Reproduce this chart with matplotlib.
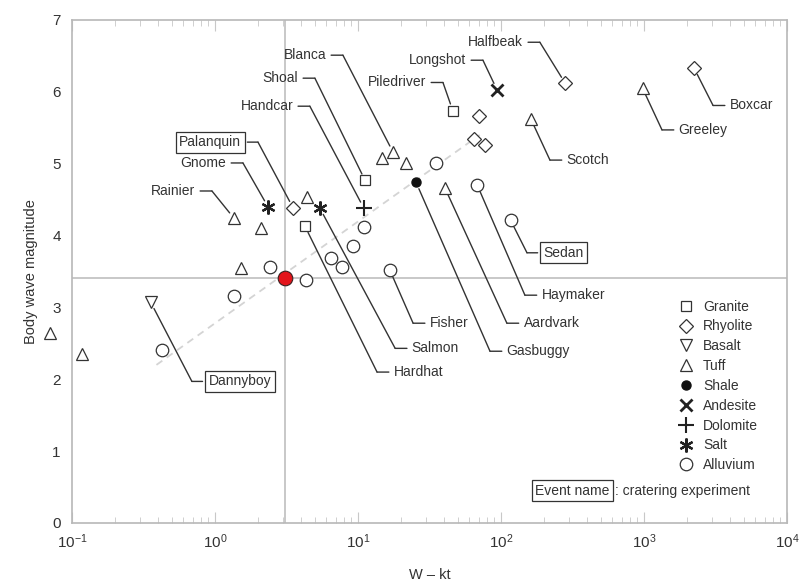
import numpy as np
import matplotlib
matplotlib.use('Agg')
import matplotlib.pyplot as plt

plt.rcParams['font.family'] = ['Liberation Sans', 'DejaVu Sans']
plt.rcParams['mathtext.default'] = 'regular'

# yield W (kt) and body wave magnitude, per rock type
granite_w = [46, 11.2, 4.26]
granite_mb = [5.74, 4.77, 4.13]
rhyolite_w = [3.51, 281, 2240, 70, 64.7, 77]
rhyolite_mb = [4.39, 6.12, 6.33, 5.67, 5.34, 5.26]
basalt_w = [0.356]
basalt_mb = [3.07]
tuff_w = [0.070, 0.117, 1.52, 1.36, 2.10, 4.39, 14.7, 17.6, 21.7, 40.6, 162, 977]
tuff_mb = [2.64, 2.35, 3.55, 4.24, 4.10, 4.53, 5.08, 5.16, 5.01, 4.66, 5.62, 6.05]
shale_w = [25.5]
shale_mb = [4.74]
andesite_w = [93.7]
andesite_mb = [6.03]
dolomite_w = [11.0]
dolomite_mb = [4.38]
salt_w = [2.35, 5.42]
salt_mb = [4.40, 4.38]
alluvium_w = [0.425, 1.36, 2.43, 4.33, 6.47, 7.72, 9.2, 11.0, 16.7, 35, 68, 117]
alluvium_mb = [2.41, 3.16, 3.56, 3.38, 3.69, 3.56, 3.85, 4.12, 3.52, 5.01, 4.71, 4.21]

# highlighted event and fit line
event_w = 3.1
event_mb = 3.41
fit_w = [0.39, 71]
fit_mb = [2.2, 5.4]

# named events: name, rock, index in that rock's arrays
events = [
    ('Blanca', 'tuff', 7), ('Shoal', 'granite', 1), ('Handcar', 'dolomite', 0),
    ('Palanquin', 'rhyolite', 0), ('Gnome', 'salt', 0), ('Rainier', 'tuff', 3),
    ('Piledriver', 'granite', 0), ('Longshot', 'andesite', 0), ('Halfbeak', 'rhyolite', 1),
    ('Boxcar', 'rhyolite', 2), ('Greeley', 'tuff', 11), ('Scotch', 'tuff', 10),
    ('Sedan', 'alluvium', 11), ('Haymaker', 'alluvium', 10), ('Aardvark', 'tuff', 9),
    ('Gasbuggy', 'shale', 0), ('Fisher', 'alluvium', 8), ('Salmon', 'salt', 1),
    ('Hardhat', 'granite', 2), ('Dannyboy', 'basalt', 0),
]
cratering = ['Palanquin', 'Sedan', 'Dannyboy']

# label layout: leader-line elbow (data coords) and side of the text
elbow_w = [7.85, 5.0, 4.61, 2.0, 1.57, 0.953, 39.3, 74.8, 187,
           3040, 1336, 220, 152, 147, 110, 83.8, 24.3, 18.2, 13.6, 0.69]
elbow_mb = [6.51, 6.19, 5.80, 5.30, 5.01, 4.62, 6.13, 6.44, 6.69,
            5.81, 5.47, 5.05, 3.76, 3.17, 2.78, 2.39, 2.78, 2.43, 2.10, 1.97]
side = ['L'] * 9 + ['R'] * 11

rocks = {
    'granite': (granite_w, granite_mb), 'rhyolite': (rhyolite_w, rhyolite_mb),
    'basalt': (basalt_w, basalt_mb), 'tuff': (tuff_w, tuff_mb),
    'shale': (shale_w, shale_mb), 'andesite': (andesite_w, andesite_mb),
    'dolomite': (dolomite_w, dolomite_mb), 'salt': (salt_w, salt_mb),
    'alluvium': (alluvium_w, alluvium_mb),
}

ink = '#333333'
fig = plt.figure(figsize=(7.99, 5.84), dpi=100)
ax = fig.add_axes([0.090, 0.1045, 0.895, 0.8613])

ax.axhline(event_mb, color='#c8c8c8', lw=1.4, zorder=1)
ax.axvline(event_w, color='#c8c8c8', lw=1.4, zorder=1)
ax.plot(fit_w, fit_mb, color='#d4d4d4', lw=1.3, ls=(0, (4, 3)), zorder=1)

open_kw = dict(ls='none', mec=ink, mfc='white', mew=0.9, zorder=4, clip_on=False)
ax.plot(granite_w, granite_mb, marker='s', ms=7.5, label='Granite', **open_kw)
ax.plot(rhyolite_w, rhyolite_mb, marker='D', ms=7, label='Rhyolite', **open_kw)
ax.plot(basalt_w, basalt_mb, marker='v', ms=8, label='Basalt', **open_kw)
ax.plot(tuff_w, tuff_mb, marker='^', ms=8, label='Tuff', **open_kw)
ax.plot(shale_w, shale_mb, ls='none', marker='o', ms=6.5, mfc='#111111', mec='#111111',
        label='Shale', zorder=4)
ax.plot(andesite_w, andesite_mb, ls='none', marker='x', ms=8, mew=2, color='#222222',
        label='Andesite', zorder=4)
ax.plot(dolomite_w, dolomite_mb, ls='none', marker='+', ms=11, mew=1.5, color='#222222',
        label='Dolomite', zorder=4)
ax.plot(salt_w, salt_mb, ls='none', marker=(6, 2, 0), ms=10, mew=1.6, color='#222222',
        label='Salt', zorder=4)
ax.plot(alluvium_w, alluvium_mb, marker='o', ms=9, label='Alluvium', **open_kw)

ax.plot(event_w, event_mb, ls='none', marker='o', ms=10.5, mfc='#e3141b', mec='#3a2020',
        mew=0.8, zorder=5)

box = dict(boxstyle='square,pad=0.25', fc='white', ec=ink, lw=0.9)
for i, (name, rock, k) in enumerate(events):
    w, mb = rocks[rock][0][k], rocks[rock][1][k]
    ex, ey = elbow_w[i], elbow_mb[i]
    ax.annotate('', xy=(w, mb), xytext=(ex, ey),
                arrowprops=dict(arrowstyle='-', color=ink, lw=1.0, shrinkA=0, shrinkB=5),
                zorder=3)
    off = -12 if side[i] == 'L' else 12
    ax.annotate(name, xy=(ex, ey), xytext=(off, 0), textcoords='offset points',
                ha='right' if side[i] == 'L' else 'left', va='center', fontsize=10,
                color=ink, bbox=box if name in cratering else None,
                arrowprops=dict(arrowstyle='-', color=ink, lw=1.0, shrinkA=1.5, shrinkB=0))

ax.set_xscale('log')
ax.set_xlim(0.1, 1e4)
ax.set_ylim(0, 7)
ax.set_yticks(range(8))
ax.set_xticks([0.1, 1, 10, 100, 1000, 10000])

for s in ax.spines.values():
    s.set_color('#b8b8b8')
    s.set_linewidth(1.2)
ax.tick_params(axis='x', which='both', direction='in', top=True, colors='#c8c8c8',
               labelcolor=ink, labelsize=11, pad=7)
ax.tick_params(axis='x', which='major', length=8)
ax.tick_params(axis='x', which='minor', length=4)
ax.tick_params(axis='y', length=0, labelcolor=ink, labelsize=11, pad=8)

ax.set_xlabel('W – kt', fontsize=10.5, color=ink, labelpad=12)
ax.set_ylabel('Body wave magnitude', fontsize=10.5, color=ink, labelpad=10)

ax.legend(loc='upper left', bbox_to_anchor=(0.84, 0.455), frameon=False, fontsize=10,
          handlelength=1.2, handletextpad=0.6, labelspacing=0.42, numpoints=1,
          labelcolor=ink, borderaxespad=0)

t = ax.text(0.648, 0.064, 'Event name', transform=ax.transAxes, fontsize=10, color=ink,
            va='center', ha='left', bbox=box)
ax.annotate(': cratering experiment', xy=(1, 0.5), xycoords=t, xytext=(4, 0),
            textcoords='offset points', va='center', ha='left', fontsize=10, color=ink)

fig.savefig('out.png', dpi=100)
